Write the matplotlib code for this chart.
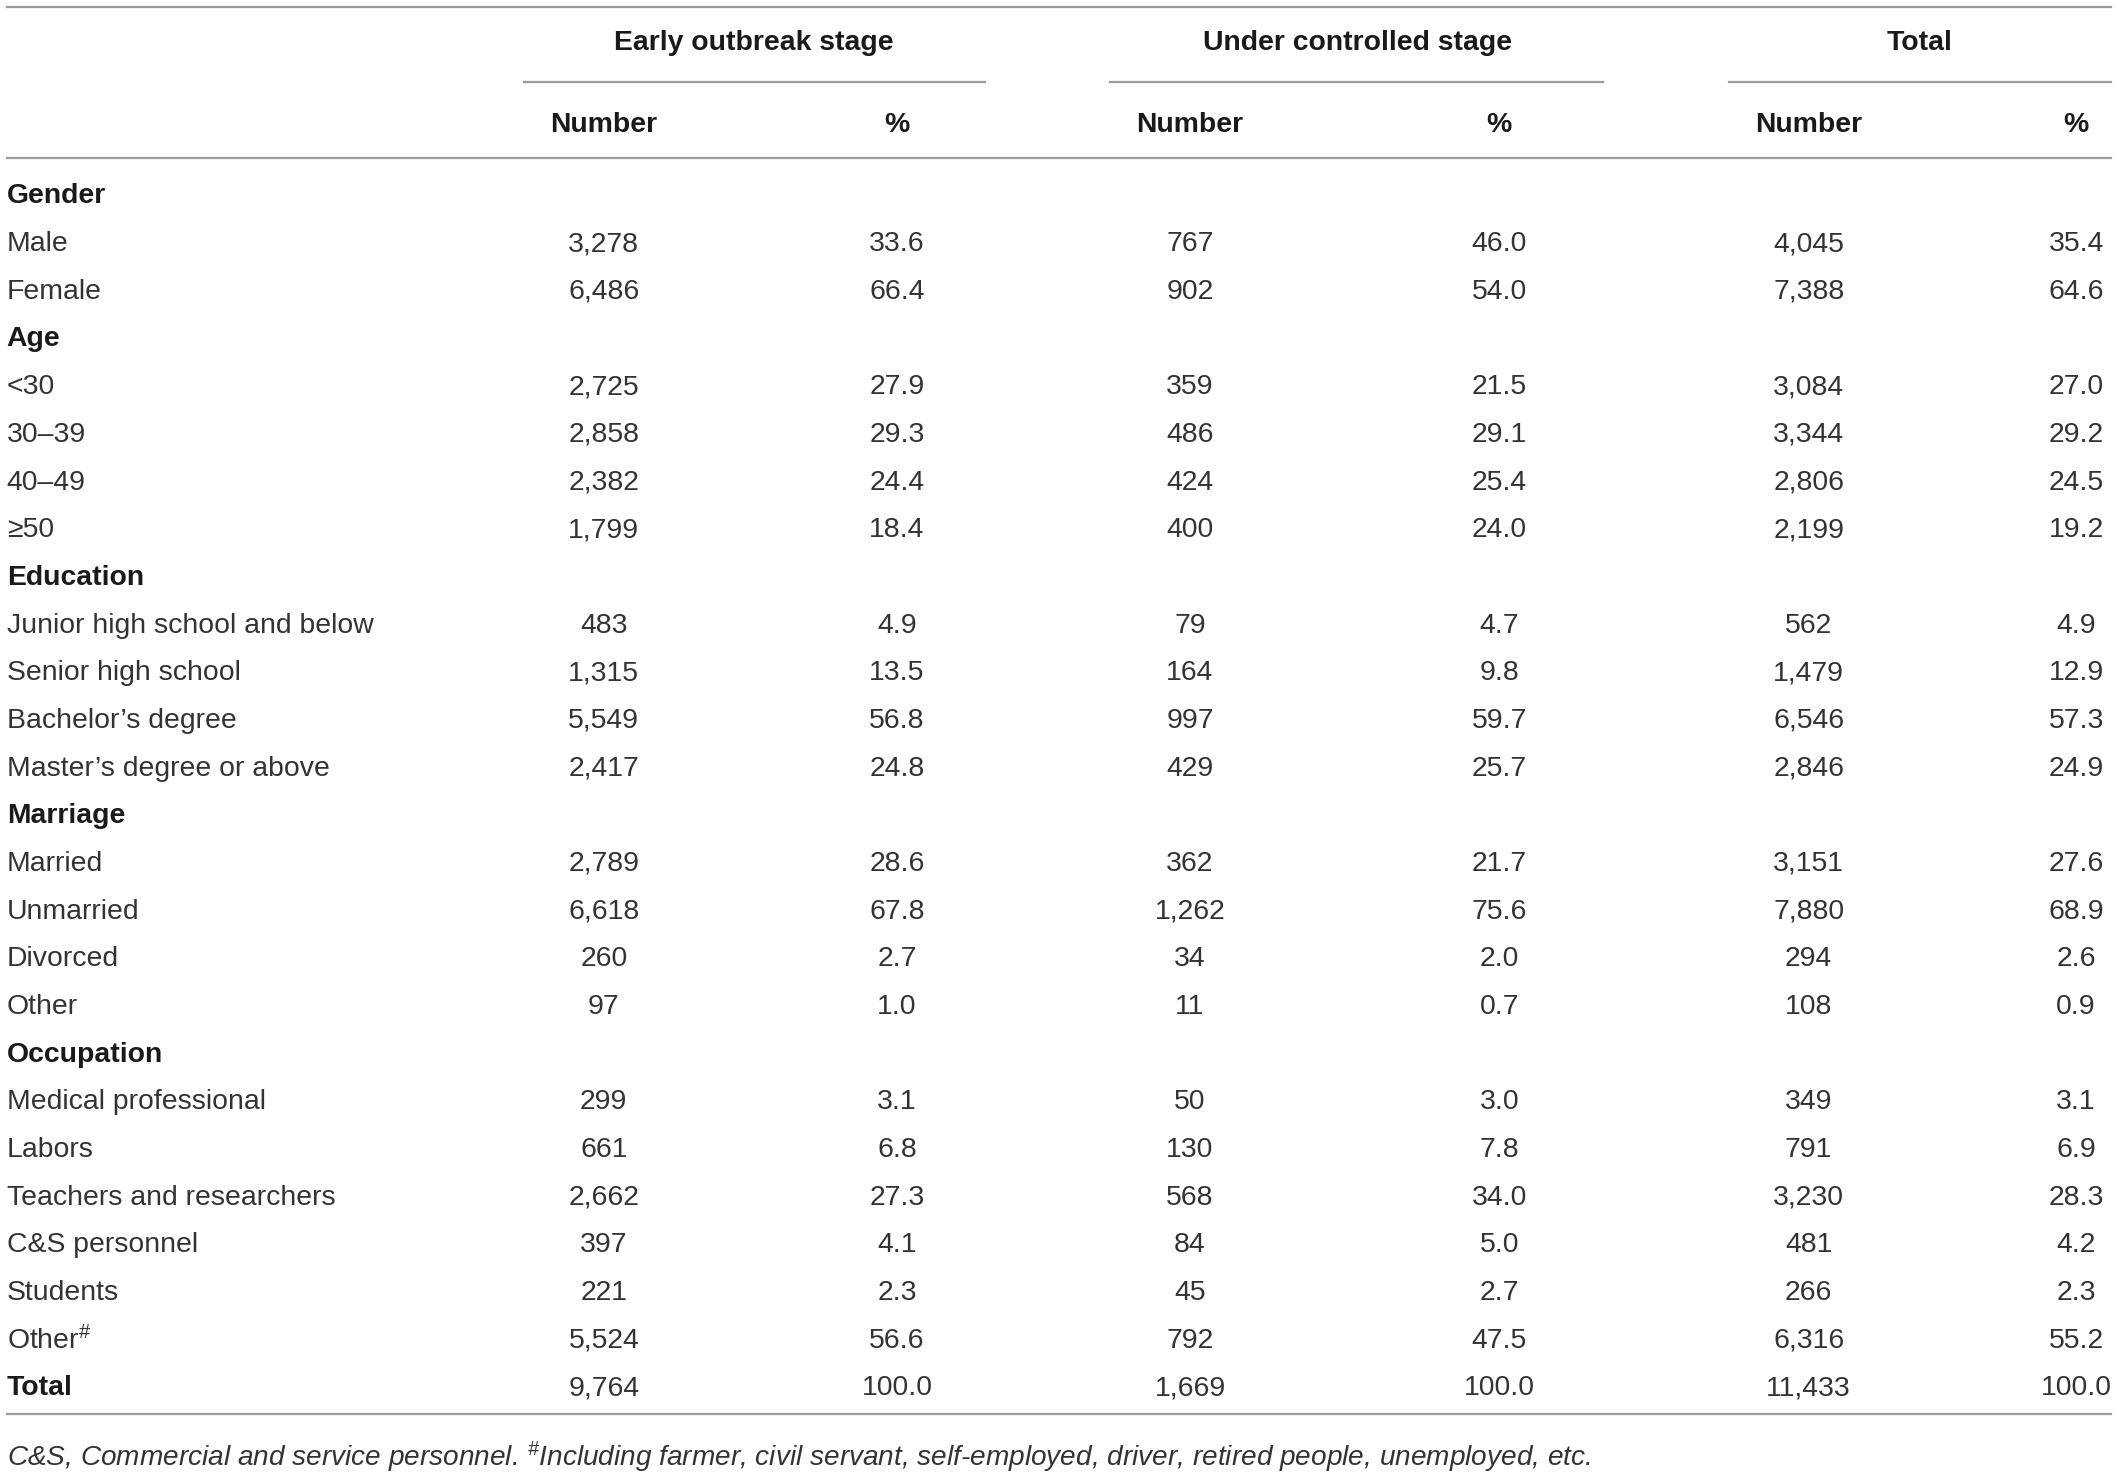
import matplotlib
matplotlib.use('Agg')
import matplotlib.pyplot as plt

plt.rcParams['font.family'] = ['Liberation Sans', 'DejaVu Sans']
plt.rcParams['mathtext.default'] = 'regular'

# Table content
row_labels = [
    'Gender', 'Male', 'Female',
    'Age', '<30', '30–39', '40–49', '≥50',
    'Education', 'Junior high school and below', 'Senior high school',
    "Bachelor’s degree", "Master’s degree or above",
    'Marriage', 'Married', 'Unmarried', 'Divorced', 'Other',
    'Occupation', 'Medical professional', 'Labors', 'Teachers and researchers',
    'C&S personnel', 'Students', r'Other$^{\#}$',
    'Total',
]
section_rows = ['Gender', 'Age', 'Education', 'Marriage', 'Occupation']

early_n = [None, '3,278', '6,486', None, '2,725', '2,858', '2,382', '1,799',
           None, '483', '1,315', '5,549', '2,417',
           None, '2,789', '6,618', '260', '97',
           None, '299', '661', '2,662', '397', '221', '5,524', '9,764']
early_pct = [None, '33.6', '66.4', None, '27.9', '29.3', '24.4', '18.4',
             None, '4.9', '13.5', '56.8', '24.8',
             None, '28.6', '67.8', '2.7', '1.0',
             None, '3.1', '6.8', '27.3', '4.1', '2.3', '56.6', '100.0']
under_n = [None, '767', '902', None, '359', '486', '424', '400',
           None, '79', '164', '997', '429',
           None, '362', '1,262', '34', '11',
           None, '50', '130', '568', '84', '45', '792', '1,669']
under_pct = [None, '46.0', '54.0', None, '21.5', '29.1', '25.4', '24.0',
             None, '4.7', '9.8', '59.7', '25.7',
             None, '21.7', '75.6', '2.0', '0.7',
             None, '3.0', '7.8', '34.0', '5.0', '2.7', '47.5', '100.0']
total_n = [None, '4,045', '7,388', None, '3,084', '3,344', '2,806', '2,199',
           None, '562', '1,479', '6,546', '2,846',
           None, '3,151', '7,880', '294', '108',
           None, '349', '791', '3,230', '481', '266', '6,316', '11,433']
total_pct = [None, '35.4', '64.6', None, '27.0', '29.2', '24.5', '19.2',
             None, '4.9', '12.9', '57.3', '24.9',
             None, '27.6', '68.9', '2.6', '0.9',
             None, '3.1', '6.9', '28.3', '4.2', '2.3', '55.2', '100.0']

group_titles = ['Early outbreak stage', 'Under controlled stage', 'Total']
sub_titles = ['Number', '%']
footnote = (r'C&S, Commercial and service personnel. $^{\#}$Including farmer, civil servant, '
            'self-employed, driver, retired people, unemployed, etc.')

# Layout (in reference pixel units)
W, H = 1568, 1093
col_x = [447, 664, 881, 1110, 1339, 1537]
group_x = [558, 1005, 1421]
group_spans = [(388, 729), (822, 1187), (1280, 1563)]
row_y0, row_step = 145.5, 35.3

TXT = '#333333'
BOLD = '#1a1a1a'
LINE = '#9a9a9a'
FS = 20.4

fig = plt.figure(figsize=(21.18, 14.76), dpi=100)
ax = fig.add_axes([0, 0, 1, 1])
ax.set_xlim(0, W)
ax.set_ylim(H, 0)
ax.axis('off')

# Rules
ax.plot([5, 1563], [5, 5], color=LINE, lw=1.6)
for x0, x1 in group_spans:
    ax.plot([x0, x1], [61, 61], color=LINE, lw=1.6)
ax.plot([5, 1563], [117, 117], color=LINE, lw=1.6)
ax.plot([5, 1563], [1047, 1047], color=LINE, lw=1.6)

# Headers
for gx, title in zip(group_x, group_titles):
    ax.text(gx, 31.5, title, ha='center', va='center', fontsize=FS,
            fontweight='bold', color=BOLD)
for i, cx in enumerate(col_x):
    ax.text(cx, 92.5, sub_titles[i % 2], ha='center', va='center', fontsize=FS,
            fontweight='bold', color=BOLD)

# Body
columns = [early_n, early_pct, under_n, under_pct, total_n, total_pct]
for r, label in enumerate(row_labels):
    y = row_y0 + r * row_step
    is_bold = label in section_rows or label == 'Total'
    ax.text(5, y, label, ha='left', va='center', fontsize=FS,
            fontweight='bold' if is_bold else 'normal',
            color=BOLD if is_bold else TXT)
    for cx, col in zip(col_x, columns):
        if col[r] is not None:
            ax.text(cx, y, col[r], ha='center', va='center', fontsize=FS, color=TXT)

ax.text(5, 1079.5, footnote, ha='left', va='center', fontsize=20.2,
        style='italic', color=TXT)

fig.savefig('out.png', dpi=100)
